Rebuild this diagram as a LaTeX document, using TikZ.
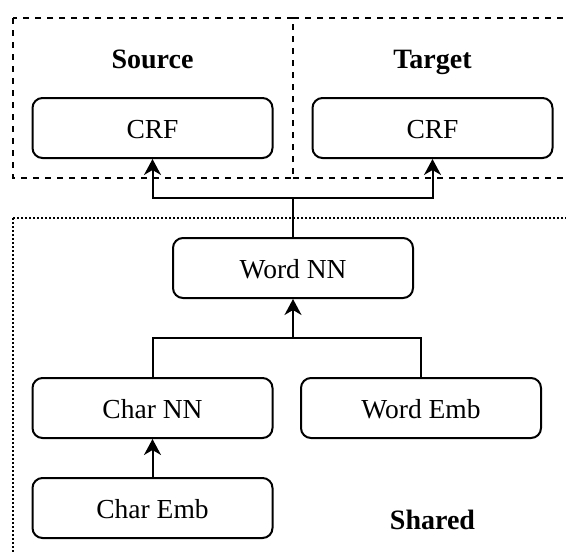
\documentclass[tikz,border=0pt]{standalone}
\usepackage{fontspec}
\setmainfont{Liberation Serif}
\usetikzlibrary{arrows.meta}
\begin{document}
\begin{tikzpicture}[
  x=0.5pt, y=-0.5pt,
  font=\fontsize{13.75pt}{16pt}\selectfont,
  box/.style={draw, line width=1pt, rounded corners=5pt,
    minimum width=120pt, minimum height=30pt, inner sep=0pt,
    text height=10.7pt, text depth=0pt},
  grouplabel/.style={font=\fontsize{14pt}{16pt}\selectfont\bfseries,
    inner sep=0pt, text height=9.3pt, text depth=0pt},
  link/.style={line width=1pt},
  arr/.style={link, -{Stealth[length=8pt, width=8.5pt, inset=2.5pt]}},
  groupdash/.style={line width=1pt, dash pattern=on 3pt off 3pt},
  groupdot/.style={line width=1pt, dash pattern=on 1pt off 1pt}
]
\useasboundingbox (0,0) rectangle (566,552);
\begin{scope}
\clip (0,0) rectangle (566,552);
% domain-specific groups (they share the divider at x=293)
\draw[groupdash] (13,18) rectangle (293,178);
\draw[groupdash] (293,18) -- (600,18);
\draw[groupdash] (293,178) -- (600,178);
% shared group
\draw[groupdot] (13,218) rectangle (600,600);
\end{scope}

\node[grouplabel] (srclabel) at (152.5,59) {Source};
\node[grouplabel] (tgtlabel) at (432.5,59) {Target};
\node[grouplabel] (sharedlabel) at (432.5,520) {Shared};

\node[box] (srccrf) at (152.5,128) {CRF};
\node[box] (tgtcrf) at (432.5,128) {CRF};
\node[box] (wordnn) at (293,268) {Word NN};
\node[box] (charnn) at (152.5,408) {Char NN};
\node[box] (wordemb) at (421,408) {Word Emb};
\node[box] (charemb) at (152.5,508) {Char Emb};

\coordinate (topsplit) at (293,198);
\coordinate (midsplit) at (293,338);

\draw[arr] (wordnn.north) -- (topsplit) -| (srccrf.south);
\draw[arr] (topsplit) -| (tgtcrf.south);
\draw[link] (charnn.north) |- (midsplit) -| (wordemb.north);
\draw[arr] (midsplit) -- (wordnn.south);
\draw[arr] (charemb.north) -- (charnn.south);
\end{tikzpicture}
\end{document}
